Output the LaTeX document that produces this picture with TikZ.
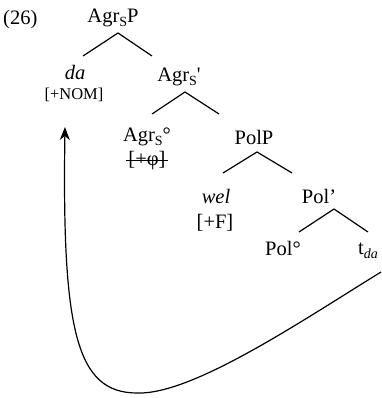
\documentclass[tikz,border=0pt]{standalone}
\usepackage{fontspec}
\setmainfont{Liberation Serif}
\usetikzlibrary{arrows.meta}
\newcommand{\subS}{\raisebox{-4pt}{\fontsize{14}{14}\selectfont S}}
\newcommand{\strk}[1]{\setbox0\hbox{#1}\rlap{\hskip-2pt\rule[4.5pt]{\dimexpr\wd0+4pt\relax}{0.9pt}}\box0}
\begin{document}
\begin{tikzpicture}[x=1pt,y=-1pt,
  lbl/.style={inner sep=0pt,anchor=base,font=\fontsize{20.5}{24}\selectfont},
  small/.style={inner sep=0pt,anchor=base,font=\fontsize{16.5}{20}\selectfont},
  branch/.style={line width=1.2pt},
  move/.style={line width=1.2pt,-{Stealth[length=13pt,width=10pt,inset=4pt]}}]
\useasboundingbox (0,0) rectangle (381,398);
% labels
\node[lbl,anchor=base west] (ex) at (3,25) {(26)};
\node[lbl] (agrsp) at (113,23) {Agr\subS P};
\node[lbl] (da) at (75,80) {\itshape da};
\node[small] (nom) at (74,100) {[+NOM]};
\node[lbl] (agrsbar) at (179,82) {Agr\subS\textquotesingle};
\node[lbl] (agrs0) at (147,142) {Agr\subS°};
\node[lbl] (phi) at (147,165) {\strk{[+φ]}};
\node[lbl] (polp) at (254,144) {PolP};
\node[lbl] (wel) at (216,203) {\itshape wel};
\node[lbl] (f) at (215,228) {[+F]};
\node[lbl] (polbar) at (319,203) {Pol’};
\node[lbl] (pol0) at (283,255) {Pol°};
\node[lbl] (tda) at (368,254) {t\raisebox{-4pt}{\fontsize{14}{14}\selectfont\itshape da}};
% branch points
\coordinate (a1) at (118,33);
\coordinate (a1l) at (83,56);
\coordinate (a1r) at (152,56);
\coordinate (a2) at (185,92);
\coordinate (a2l) at (152,114);
\coordinate (a2r) at (219,114);
\coordinate (a3) at (257,152);
\coordinate (a3l) at (223,173);
\coordinate (a3r) at (292,173);
\coordinate (a4) at (334,209);
\coordinate (a4l) at (299,232);
\coordinate (a4r) at (368,232);
\draw[branch] (a1l) -- (a1) -- (a1r);
\draw[branch] (a2l) -- (a2) -- (a2r);
\draw[branch] (a3l) -- (a3) -- (a3r);
\draw[branch] (a4l) -- (a4) -- (a4r);
% movement arrow
\coordinate (mstart) at (381,272);
\coordinate (mbot) at (137,393);
\coordinate (mtip) at (65,127);
\draw[move] (mstart) .. controls (300,322) and (192,395) .. (mbot)
  .. controls (76,393) and (62,330) .. (mtip);
\end{tikzpicture}
\end{document}
